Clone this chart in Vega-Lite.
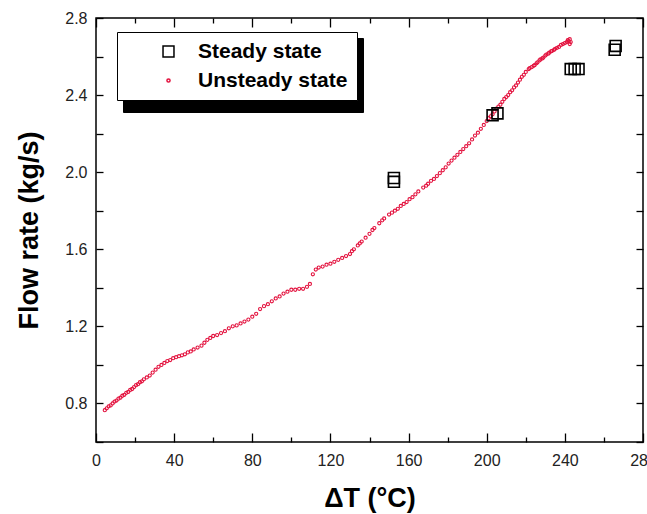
{
  "$schema": "https://vega.github.io/schema/vega-lite/v6.json",
  "width": 547,
  "height": 424,
  "autosize": {"type": "none"},
  "padding": {"left": 96, "top": 18, "right": 4, "bottom": 72},
  "background": "white",
  "config": {
    "view": {"stroke": "black", "strokeWidth": 1.5},
    "font": "Liberation Sans",
    "axis": {"domain": false, "grid": false, "tickColor": "black", "tickWidth": 1.3, "labelFlush": false, "labelFont": "Liberation Sans", "labelFontSize": 15, "labelColor": "#222"}
  },
  "resolve": {"axis": {"x": "independent", "y": "independent"}},
  "layer": [
    {
      "data": {"values": [
        {"dT": 4.5, "flow": 0.765, "series": "Unsteady state"},
        {"dT": 5.5, "flow": 0.775, "series": "Unsteady state"},
        {"dT": 6.5, "flow": 0.785, "series": "Unsteady state"},
        {"dT": 7.5, "flow": 0.79, "series": "Unsteady state"},
        {"dT": 8.5, "flow": 0.8, "series": "Unsteady state"},
        {"dT": 9.5, "flow": 0.81, "series": "Unsteady state"},
        {"dT": 10.5, "flow": 0.815, "series": "Unsteady state"},
        {"dT": 11.5, "flow": 0.825, "series": "Unsteady state"},
        {"dT": 12.5, "flow": 0.83, "series": "Unsteady state"},
        {"dT": 13.5, "flow": 0.84, "series": "Unsteady state"},
        {"dT": 14.5, "flow": 0.845, "series": "Unsteady state"},
        {"dT": 15.5, "flow": 0.855, "series": "Unsteady state"},
        {"dT": 16.5, "flow": 0.86, "series": "Unsteady state"},
        {"dT": 17.5, "flow": 0.87, "series": "Unsteady state"},
        {"dT": 18.5, "flow": 0.875, "series": "Unsteady state"},
        {"dT": 19.5, "flow": 0.885, "series": "Unsteady state"},
        {"dT": 20.5, "flow": 0.895, "series": "Unsteady state"},
        {"dT": 21.5, "flow": 0.9, "series": "Unsteady state"},
        {"dT": 22.5, "flow": 0.91, "series": "Unsteady state"},
        {"dT": 23.5, "flow": 0.915, "series": "Unsteady state"},
        {"dT": 24.5, "flow": 0.925, "series": "Unsteady state"},
        {"dT": 26, "flow": 0.935, "series": "Unsteady state"},
        {"dT": 27.5, "flow": 0.945, "series": "Unsteady state"},
        {"dT": 29, "flow": 0.96, "series": "Unsteady state"},
        {"dT": 30.5, "flow": 0.975, "series": "Unsteady state"},
        {"dT": 32, "flow": 0.99, "series": "Unsteady state"},
        {"dT": 33.5, "flow": 1.0, "series": "Unsteady state"},
        {"dT": 35, "flow": 1.01, "series": "Unsteady state"},
        {"dT": 36.5, "flow": 1.02, "series": "Unsteady state"},
        {"dT": 38, "flow": 1.025, "series": "Unsteady state"},
        {"dT": 39.5, "flow": 1.035, "series": "Unsteady state"},
        {"dT": 41, "flow": 1.04, "series": "Unsteady state"},
        {"dT": 42.5, "flow": 1.045, "series": "Unsteady state"},
        {"dT": 44, "flow": 1.05, "series": "Unsteady state"},
        {"dT": 45.5, "flow": 1.055, "series": "Unsteady state"},
        {"dT": 47, "flow": 1.065, "series": "Unsteady state"},
        {"dT": 48.5, "flow": 1.07, "series": "Unsteady state"},
        {"dT": 50, "flow": 1.08, "series": "Unsteady state"},
        {"dT": 52, "flow": 1.09, "series": "Unsteady state"},
        {"dT": 54, "flow": 1.1, "series": "Unsteady state"},
        {"dT": 55.5, "flow": 1.115, "series": "Unsteady state"},
        {"dT": 57, "flow": 1.13, "series": "Unsteady state"},
        {"dT": 58.5, "flow": 1.14, "series": "Unsteady state"},
        {"dT": 60, "flow": 1.15, "series": "Unsteady state"},
        {"dT": 62, "flow": 1.155, "series": "Unsteady state"},
        {"dT": 64, "flow": 1.165, "series": "Unsteady state"},
        {"dT": 66, "flow": 1.175, "series": "Unsteady state"},
        {"dT": 68, "flow": 1.19, "series": "Unsteady state"},
        {"dT": 70, "flow": 1.2, "series": "Unsteady state"},
        {"dT": 72, "flow": 1.205, "series": "Unsteady state"},
        {"dT": 74, "flow": 1.215, "series": "Unsteady state"},
        {"dT": 76, "flow": 1.225, "series": "Unsteady state"},
        {"dT": 78, "flow": 1.235, "series": "Unsteady state"},
        {"dT": 80, "flow": 1.25, "series": "Unsteady state"},
        {"dT": 82, "flow": 1.265, "series": "Unsteady state"},
        {"dT": 84, "flow": 1.29, "series": "Unsteady state"},
        {"dT": 86, "flow": 1.305, "series": "Unsteady state"},
        {"dT": 88, "flow": 1.315, "series": "Unsteady state"},
        {"dT": 90, "flow": 1.33, "series": "Unsteady state"},
        {"dT": 92, "flow": 1.345, "series": "Unsteady state"},
        {"dT": 94, "flow": 1.355, "series": "Unsteady state"},
        {"dT": 96, "flow": 1.37, "series": "Unsteady state"},
        {"dT": 98, "flow": 1.38, "series": "Unsteady state"},
        {"dT": 100, "flow": 1.39, "series": "Unsteady state"},
        {"dT": 102, "flow": 1.39, "series": "Unsteady state"},
        {"dT": 104, "flow": 1.395, "series": "Unsteady state"},
        {"dT": 106, "flow": 1.395, "series": "Unsteady state"},
        {"dT": 108, "flow": 1.405, "series": "Unsteady state"},
        {"dT": 109.5, "flow": 1.42, "series": "Unsteady state"},
        {"dT": 111, "flow": 1.47, "series": "Unsteady state"},
        {"dT": 112.5, "flow": 1.495, "series": "Unsteady state"},
        {"dT": 114, "flow": 1.505, "series": "Unsteady state"},
        {"dT": 116, "flow": 1.51, "series": "Unsteady state"},
        {"dT": 118, "flow": 1.52, "series": "Unsteady state"},
        {"dT": 120, "flow": 1.525, "series": "Unsteady state"},
        {"dT": 122, "flow": 1.535, "series": "Unsteady state"},
        {"dT": 124, "flow": 1.545, "series": "Unsteady state"},
        {"dT": 126, "flow": 1.555, "series": "Unsteady state"},
        {"dT": 128, "flow": 1.565, "series": "Unsteady state"},
        {"dT": 130, "flow": 1.575, "series": "Unsteady state"},
        {"dT": 131, "flow": 1.59, "series": "Unsteady state"},
        {"dT": 132, "flow": 1.6, "series": "Unsteady state"},
        {"dT": 134, "flow": 1.62, "series": "Unsteady state"},
        {"dT": 135, "flow": 1.63, "series": "Unsteady state"},
        {"dT": 136, "flow": 1.64, "series": "Unsteady state"},
        {"dT": 138, "flow": 1.66, "series": "Unsteady state"},
        {"dT": 140, "flow": 1.68, "series": "Unsteady state"},
        {"dT": 141.5, "flow": 1.7, "series": "Unsteady state"},
        {"dT": 142.5, "flow": 1.71, "series": "Unsteady state"},
        {"dT": 145, "flow": 1.735, "series": "Unsteady state"},
        {"dT": 146.5, "flow": 1.75, "series": "Unsteady state"},
        {"dT": 147.5, "flow": 1.76, "series": "Unsteady state"},
        {"dT": 150, "flow": 1.78, "series": "Unsteady state"},
        {"dT": 151.5, "flow": 1.79, "series": "Unsteady state"},
        {"dT": 153, "flow": 1.8, "series": "Unsteady state"},
        {"dT": 154.5, "flow": 1.81, "series": "Unsteady state"},
        {"dT": 156, "flow": 1.825, "series": "Unsteady state"},
        {"dT": 157.5, "flow": 1.835, "series": "Unsteady state"},
        {"dT": 159, "flow": 1.845, "series": "Unsteady state"},
        {"dT": 160.5, "flow": 1.86, "series": "Unsteady state"},
        {"dT": 162, "flow": 1.87, "series": "Unsteady state"},
        {"dT": 163.5, "flow": 1.885, "series": "Unsteady state"},
        {"dT": 165, "flow": 1.9, "series": "Unsteady state"},
        {"dT": 167.5, "flow": 1.92, "series": "Unsteady state"},
        {"dT": 169, "flow": 1.93, "series": "Unsteady state"},
        {"dT": 170, "flow": 1.94, "series": "Unsteady state"},
        {"dT": 171.5, "flow": 1.955, "series": "Unsteady state"},
        {"dT": 173, "flow": 1.965, "series": "Unsteady state"},
        {"dT": 174.5, "flow": 1.98, "series": "Unsteady state"},
        {"dT": 176, "flow": 1.995, "series": "Unsteady state"},
        {"dT": 177.5, "flow": 2.01, "series": "Unsteady state"},
        {"dT": 179, "flow": 2.025, "series": "Unsteady state"},
        {"dT": 180.5, "flow": 2.045, "series": "Unsteady state"},
        {"dT": 182, "flow": 2.06, "series": "Unsteady state"},
        {"dT": 183.5, "flow": 2.075, "series": "Unsteady state"},
        {"dT": 185, "flow": 2.09, "series": "Unsteady state"},
        {"dT": 186.5, "flow": 2.105, "series": "Unsteady state"},
        {"dT": 188, "flow": 2.12, "series": "Unsteady state"},
        {"dT": 189.5, "flow": 2.135, "series": "Unsteady state"},
        {"dT": 191, "flow": 2.15, "series": "Unsteady state"},
        {"dT": 192.5, "flow": 2.17, "series": "Unsteady state"},
        {"dT": 194, "flow": 2.19, "series": "Unsteady state"},
        {"dT": 195.5, "flow": 2.205, "series": "Unsteady state"},
        {"dT": 197, "flow": 2.225, "series": "Unsteady state"},
        {"dT": 198.5, "flow": 2.245, "series": "Unsteady state"},
        {"dT": 200, "flow": 2.265, "series": "Unsteady state"},
        {"dT": 201, "flow": 2.28, "series": "Unsteady state"},
        {"dT": 202, "flow": 2.29, "series": "Unsteady state"},
        {"dT": 203, "flow": 2.3, "series": "Unsteady state"},
        {"dT": 204, "flow": 2.315, "series": "Unsteady state"},
        {"dT": 205, "flow": 2.33, "series": "Unsteady state"},
        {"dT": 206, "flow": 2.34, "series": "Unsteady state"},
        {"dT": 207, "flow": 2.35, "series": "Unsteady state"},
        {"dT": 208, "flow": 2.365, "series": "Unsteady state"},
        {"dT": 209, "flow": 2.38, "series": "Unsteady state"},
        {"dT": 210, "flow": 2.39, "series": "Unsteady state"},
        {"dT": 211, "flow": 2.4, "series": "Unsteady state"},
        {"dT": 212, "flow": 2.415, "series": "Unsteady state"},
        {"dT": 213, "flow": 2.425, "series": "Unsteady state"},
        {"dT": 214, "flow": 2.44, "series": "Unsteady state"},
        {"dT": 215, "flow": 2.45, "series": "Unsteady state"},
        {"dT": 216, "flow": 2.465, "series": "Unsteady state"},
        {"dT": 217, "flow": 2.48, "series": "Unsteady state"},
        {"dT": 218, "flow": 2.495, "series": "Unsteady state"},
        {"dT": 219, "flow": 2.505, "series": "Unsteady state"},
        {"dT": 220, "flow": 2.52, "series": "Unsteady state"},
        {"dT": 221.5, "flow": 2.535, "series": "Unsteady state"},
        {"dT": 222, "flow": 2.54, "series": "Unsteady state"},
        {"dT": 223, "flow": 2.545, "series": "Unsteady state"},
        {"dT": 224, "flow": 2.552, "series": "Unsteady state"},
        {"dT": 224.5, "flow": 2.555, "series": "Unsteady state"},
        {"dT": 225.5, "flow": 2.565, "series": "Unsteady state"},
        {"dT": 226, "flow": 2.57, "series": "Unsteady state"},
        {"dT": 227, "flow": 2.58, "series": "Unsteady state"},
        {"dT": 227.5, "flow": 2.585, "series": "Unsteady state"},
        {"dT": 228.5, "flow": 2.59, "series": "Unsteady state"},
        {"dT": 229, "flow": 2.595, "series": "Unsteady state"},
        {"dT": 230, "flow": 2.605, "series": "Unsteady state"},
        {"dT": 230.5, "flow": 2.61, "series": "Unsteady state"},
        {"dT": 231.5, "flow": 2.615, "series": "Unsteady state"},
        {"dT": 232, "flow": 2.62, "series": "Unsteady state"},
        {"dT": 233, "flow": 2.627, "series": "Unsteady state"},
        {"dT": 233.5, "flow": 2.63, "series": "Unsteady state"},
        {"dT": 234.5, "flow": 2.635, "series": "Unsteady state"},
        {"dT": 235, "flow": 2.64, "series": "Unsteady state"},
        {"dT": 236, "flow": 2.645, "series": "Unsteady state"},
        {"dT": 237, "flow": 2.65, "series": "Unsteady state"},
        {"dT": 238, "flow": 2.66, "series": "Unsteady state"},
        {"dT": 239, "flow": 2.665, "series": "Unsteady state"},
        {"dT": 240, "flow": 2.67, "series": "Unsteady state"},
        {"dT": 241, "flow": 2.675, "series": "Unsteady state"},
        {"dT": 242, "flow": 2.68, "series": "Unsteady state"},
        {"dT": 242.5, "flow": 2.69, "series": "Unsteady state"},
        {"dT": 243, "flow": 2.675, "series": "Unsteady state"},
        {"dT": 241.5, "flow": 2.685, "series": "Unsteady state"},
        {"dT": 242.5, "flow": 2.665, "series": "Unsteady state"}
      ]},
      "mark": {"type": "point", "filled": false, "strokeWidth": 1.1, "opacity": 1},
      "encoding": {
        "x": {"field": "dT", "type": "quantitative", "scale": {"domain": [0, 280], "nice": false, "zero": false},
          "axis": {"orient": "bottom", "values": [0, 20, 40, 60, 80, 100, 120, 140, 160, 180, 200, 220, 240, 260, 280],
            "labelExpr": "datum.value % 40 === 0 ? datum.label : ''",
            "tickSize": {"condition": {"test": "datum.value % 40 === 0", "value": -9}, "value": -5},
            "labelPadding": 19, "labelFontSize": 16,
            "title": "ΔT (°C)", "titleFont": "Liberation Sans", "titleFontSize": 27, "titleFontWeight": "bold", "titleColor": "black",
            "titleX": 273.5, "titleY": 56, "titleBaseline": "middle", "titleAlign": "center"}},
        "y": {"field": "flow", "type": "quantitative", "scale": {"domain": [0.6, 2.8], "nice": false, "zero": false},
          "axis": {"orient": "left", "values": [0.6, 0.8, 1.0, 1.2, 1.4, 1.6, 1.8, 2.0, 2.2, 2.4, 2.6, 2.8],
            "labelExpr": "round(datum.value * 10) % 4 === 0 ? format(datum.value, '.1f') : ''",
            "tickSize": -7, "labelPadding": 16, "labelFontSize": 16,
            "title": "Flow rate (kg/s)", "titleFont": "Liberation Sans", "titleFontSize": 27, "titleFontWeight": "bold", "titleColor": "black",
            "titleX": -67, "titleY": 212, "titleAngle": -90, "titleBaseline": "middle", "titleAlign": "center"}},
        "color": {"field": "series", "type": "nominal",
          "scale": {"domain": ["Steady state", "Unsteady state"], "range": ["black", "#e3123e"]},
          "legend": {"title": null, "orient": "none", "legendX": 21, "legendY": 14, "zindex": 2, "fillColor": "white", "strokeColor": "black",
            "padding": 9, "symbolOffset": 32, "labelOffset": 19, "rowPadding": 7,
            "labelFont": "Liberation Sans", "labelFontSize": 21, "labelFontWeight": "bold", "labelColor": "black",
            "symbolStrokeWidth": 1.5}},
        "shape": {"field": "series", "type": "nominal", "scale": {"domain": ["Steady state", "Unsteady state"], "range": ["square", "circle"]}},
        "size": {"field": "series", "type": "nominal", "scale": {"domain": ["Steady state", "Unsteady state"], "range": [120, 10]}},
        "opacity": {"field": "series", "type": "nominal", "scale": {"domain": ["Unsteady state", "Steady state"], "range": [1, 1]},
          "legend": {"title": null, "orient": "none", "legendX": 27, "legendY": 20, "zindex": 1, "fillColor": "black", "strokeColor": "black",
            "padding": 9, "symbolOffset": 197, "symbolSize": 441, "symbolType": "square", "symbolFillColor": "black", "symbolStrokeColor": "black",
            "labelExpr": "''", "labelOffset": 0, "rowPadding": 4}}
      }
    },
    {
      "data": {"values": [
        {"dT": 152.5, "flow": 1.95, "series": "Steady state"},
        {"dT": 152.5, "flow": 1.97, "series": "Steady state"},
        {"dT": 203, "flow": 2.295, "series": "Steady state"},
        {"dT": 205.5, "flow": 2.305, "series": "Steady state"},
        {"dT": 243, "flow": 2.535, "series": "Steady state"},
        {"dT": 245, "flow": 2.535, "series": "Steady state"},
        {"dT": 247, "flow": 2.535, "series": "Steady state"},
        {"dT": 265.5, "flow": 2.635, "series": "Steady state"},
        {"dT": 266, "flow": 2.655, "series": "Steady state"}
      ]},
      "mark": {"type": "point", "filled": false, "strokeWidth": 1.6, "opacity": 1},
      "encoding": {
        "x": {"field": "dT", "type": "quantitative",
          "axis": {"orient": "top", "values": [0, 20, 40, 60, 80, 100, 120, 140, 160, 180, 200, 220, 240, 260, 280],
            "labels": false, "title": null,
            "tickSize": {"condition": {"test": "datum.value % 40 === 0", "value": -9}, "value": -5}}},
        "y": {"field": "flow", "type": "quantitative",
          "axis": {"orient": "right", "values": [0.6, 0.8, 1.0, 1.2, 1.4, 1.6, 1.8, 2.0, 2.2, 2.4, 2.6, 2.8],
            "labels": false, "title": null, "tickSize": -7}},
        "color": {"field": "series", "type": "nominal"},
        "shape": {"field": "series", "type": "nominal"},
        "size": {"field": "series", "type": "nominal"}
      }
    }
  ]
}
